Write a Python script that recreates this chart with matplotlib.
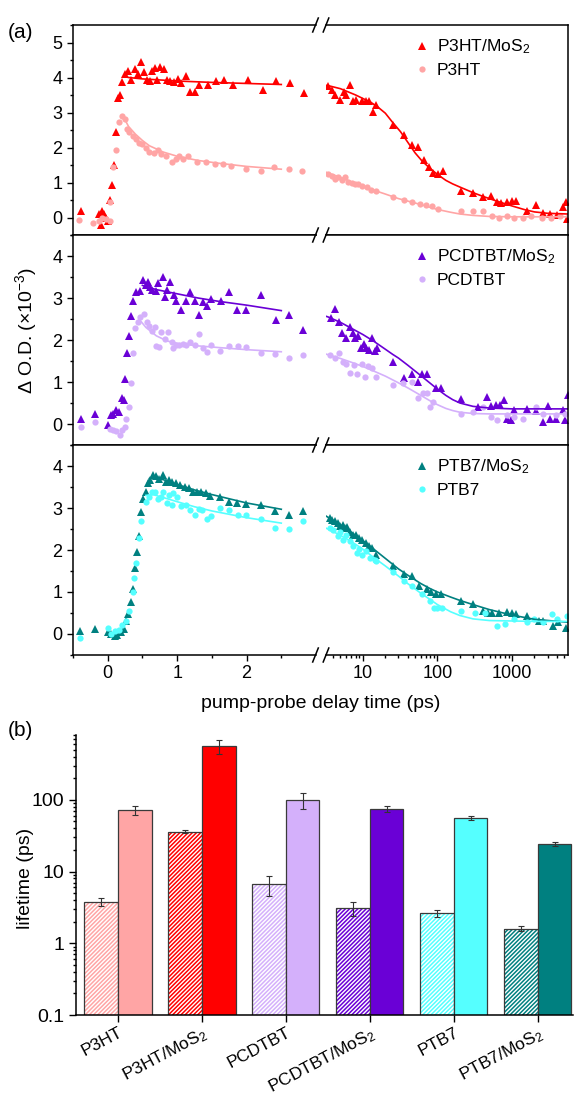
import numpy as np
import matplotlib
matplotlib.use("Agg")
import matplotlib.pyplot as plt
from matplotlib.lines import Line2D
from matplotlib.ticker import FixedLocator, MultipleLocator, LogLocator, NullFormatter, FuncFormatter

plt.rcParams["font.family"] = ["Liberation Sans", "DejaVu Sans"]
plt.rcParams["mathtext.fontset"] = "custom"
plt.rcParams["mathtext.rm"] = "Liberation Sans"
plt.rcParams["mathtext.it"] = "Liberation Sans:italic"
plt.rcParams["hatch.linewidth"] = 1.1
plt.rcParams["axes.linewidth"] = 1.1

# ---------------- panel (a): transient absorption kinetics ----------------
# delay time (ps) and dOD (x1e-3)
t_p3ht_mos2 = [-0.38, -0.12, -0.08, -0.1, -0.05, -0.02, 0.0, 0.03, 0.06, 0.09, 0.115, 0.15, 0.18, 0.21,
               0.245, 0.29, 0.33, 0.39, 0.44, 0.485, 0.52, 0.56, 0.61, 0.64, 0.68, 0.71, 0.75, 0.81, 0.85,
               0.89, 0.96, 1.01, 1.06, 1.13, 1.18, 1.25, 1.31, 1.44, 1.56, 1.68, 1.8, 2.02, 2.24, 2.43,
               2.62, 2.82,
               3.42, 3.8, 4.2, 4.9, 5.6, 6.0, 6.7, 7.4, 8.2, 9.6, 11, 12.2, 13.5, 15.2, 25.5, 35.5, 45,
               55, 66, 78, 88, 102, 117, 210, 300, 410, 520, 620, 720, 850, 990, 1130, 1600, 2100, 2620,
               3250, 4000, 4900, 5300, 5400]
od_p3ht_mos2 = [0.18, 0.1, 0.2, -0.2, 0.1, 0.0, -0.1, 0.49, 0.94, 1.5, 2.43, 3.42, 3.5, 3.87,
                4.1, 4.2, 3.93, 4.25, 4.1, 4.44, 4.15, 3.93, 3.9, 4.2, 4.26, 3.93, 4.3, 4.25, 3.93,
                3.9, 3.87, 3.96, 3.84, 4.05, 3.6, 3.6, 3.8, 3.8, 3.9, 3.93, 3.8, 3.93, 3.65, 3.9,
                3.85, 3.55,
                3.77, 3.63, 3.51, 3.36, 3.6, 3.5, 3.78, 3.34, 3.36, 3.34, 3.34, 3.34, 3.01, 3.22, 2.63,
                2.36, 2.06, 2.02, 1.65, 1.44, 1.27, 1.25, 1.33, 0.75, 0.7, 0.6, 0.62, 0.44, 0.42, 0.44,
                0.48, 0.48, 0.18, 0.37, 0.13, 0.1, 0.08, 0.3, 0.44, -0.03]

t_p3ht = [-0.41, -0.21, -0.13, -0.08, -0.02, 0.03, 0.03, 0.08, 0.115, 0.16, 0.21, 0.25, 0.28, 0.31, 0.36,
          0.41, 0.45, 0.5, 0.55, 0.6, 0.66, 0.72, 0.77, 0.84, 0.92, 0.98, 1.03, 1.09, 1.15, 1.28, 1.42,
          1.54, 1.66, 1.78, 1.99, 2.21, 2.4, 2.61, 2.8,
          3.42, 3.8, 4.2, 4.6, 5.2, 5.8, 6.4, 7.1, 7.9, 8.7, 9.8, 11.2, 12.9, 14.8, 25.5, 35.8, 45, 58,
          70, 85, 102, 210, 300, 410, 540, 660, 870, 1050, 1400, 1800, 2500, 3300, 4400]
od_p3ht = [-0.06, -0.16, -0.1, 0.0, -0.05, -0.1, 0.45, 1.44, 1.94, 2.72, 2.91, 2.82, 2.53, 2.43, 2.34,
           2.24, 2.14, 2.1, 2.0, 1.87, 1.84, 1.92, 1.82, 1.77, 1.58, 1.68, 1.77, 1.68, 1.77, 1.58, 1.58,
           1.53, 1.53, 1.47, 1.39, 1.34, 1.44, 1.39, 1.32,
           1.25, 1.18, 1.1, 1.15, 1.06, 1.17, 1.01, 0.98, 0.96, 0.96, 0.91, 0.86, 0.78, 0.76, 0.58, 0.49,
           0.44, 0.39, 0.37, 0.32, 0.23, 0.18, 0.2, 0.18, 0.03, 0.0, 0.03, 0.0, 0.0, 0.03, -0.01, 0.0, 0.05]

t_pcdtbt_mos2 = [-0.39, -0.19, 0.0, 0.05, 0.08, 0.125, 0.16, 0.2, 0.23, 0.245, 0.28, 0.31, 0.34, 0.36,
                 0.41, 0.47, 0.51, 0.55, 0.58, 0.61, 0.64, 0.69, 0.72, 0.79, 0.82, 0.85, 0.9, 0.95, 0.99,
                 1.06, 1.13, 1.19, 1.25, 1.31, 1.37, 1.43, 1.49, 1.63, 1.74, 1.86, 1.99, 2.21, 2.42, 2.61,
                 2.81,
                 3.68, 4.2, 4.8, 5.2, 6.0, 6.7, 7.3, 7.8, 8.6, 9.4, 10.3, 11.1, 12.2, 13.3, 14.4, 15.6,
                 25.5, 35.5, 46, 55, 62, 72, 95, 110, 210, 355, 460, 520, 610, 700, 780, 850, 960, 1050,
                 1600, 2100, 2600, 3000, 3250, 3900, 4800, 5200, 5600]
od_pcdtbt_mos2 = [0.13, 0.25, -0.02, 0.21, 0.25, 0.33, 0.29, 0.61, 0.57, 1.06, 1.7, 2.1, 2.56, 2.92,
                  3.14, 3.16, 3.43, 3.31, 3.39, 3.27, 3.19, 3.16, 3.35, 3.51, 3.03, 3.19, 3.39, 3.07, 2.92,
                  2.71, 2.92, 3.14, 2.92, 2.6, 2.9, 2.8, 2.98, 2.92, 3.14, 2.71, 2.71, 3.06, 2.48, 2.6,
                  2.25,
                  2.52, 2.75, 2.44, 2.16, 2.04, 2.3, 2.16, 2.04, 2.1, 1.81, 1.9, 1.81, 1.77, 2.04, 1.73, 1.81,
                  1.48, 1.1, 1.19, 1.01, 1.19, 1.19, 0.85, 0.85, 0.59, 0.4, 0.65, 0.42, 0.46, 0.46, 0.57,
                  0.13, 0.1, 0.33, 0.36, 0.3, 0.04, 0.44, 0.13, 0.13, 0.33, 0.1, 0.68]

t_pcdtbt = [-0.39, -0.19, 0.03, 0.07, 0.12, 0.17, 0.21, 0.25, 0.27, 0.3, 0.33, 0.36, 0.4, 0.44, 0.47,
            0.52, 0.56, 0.6, 0.64, 0.68, 0.7, 0.74, 0.77, 0.82, 0.87, 0.92, 0.94, 0.99, 1.03, 1.08, 1.13,
            1.19, 1.25, 1.31, 1.37, 1.43, 1.49, 1.62, 1.75, 1.87, 1.99, 2.21, 2.41, 2.61, 2.81,
            3.6, 4.2, 4.8, 5.4, 6.0, 6.8, 7.5, 8.4, 9.6, 10.6, 11.7, 13.3, 14.9, 25.5, 35, 45, 55, 64,
            72, 79, 87, 210, 300, 410, 520, 620, 850, 1050, 1400, 2100, 2600, 3900, 5200]
od_pcdtbt = [-0.06, 0.05, -0.13, -0.14, -0.17, -0.26, -0.14, -0.06, 0.11, 0.41, 0.97, 1.7, 2.28, 2.44, 2.54,
             2.61, 2.44, 2.33, 2.22, 2.32, 1.86, 1.84, 2.2, 2.03, 2.2, 1.96, 1.81, 1.89, 1.89, 1.91, 1.89,
             1.96, 1.89, 2.15, 1.81, 1.72, 1.89, 1.73, 1.86, 1.86, 1.84, 1.68, 1.66, 1.58, 1.64,
             1.64, 1.56, 1.68, 1.48, 1.44, 1.21, 1.41, 1.19, 1.44, 1.13, 1.37, 1.33, 1.13, 0.93, 0.97,
             0.99, 0.61, 0.73, 0.73, 0.41, 0.53, 0.25, 0.29, 0.41, 0.17, 0.1, 0.21, 0.17, 0.13, 0.41,
             0.25, 0.21, 0.25]

t_ptb7_mos2 = [-0.4, -0.19, 0.0, 0.05, 0.1, 0.14, 0.19, 0.24, 0.26, 0.29, 0.34, 0.36, 0.39, 0.42, 0.45,
               0.48, 0.51, 0.55, 0.58, 0.61, 0.65, 0.69, 0.74, 0.79, 0.84, 0.88, 0.92, 0.98, 1.04, 1.11,
               1.17, 1.23, 1.29, 1.35, 1.41, 1.47, 1.62, 1.74, 1.86, 1.99, 2.21, 2.41, 2.61, 2.81,
               3.6, 3.9, 4.2, 4.7, 5.0, 5.4, 5.8, 6.2, 6.7, 7.3, 8.0, 8.9, 9.8, 11, 12.2, 13.3, 15.2,
               25.5, 35.5, 46, 56, 72, 82, 96, 110, 210, 300, 410, 480, 540, 660, 850, 990, 1130, 1600,
               2300, 2600, 3600, 4100, 5300]
od_ptb7_mos2 = [0.08, 0.12, 0.05, 0.0, -0.05, -0.03, 0.04, 0.12, 0.32, 0.47, 0.76, 1.08, 1.58, 1.95, 2.34,
                2.9, 3.21, 3.39, 3.59, 3.66, 3.79, 3.76, 3.7, 3.79, 3.61, 3.67, 3.61, 3.59, 3.55, 3.51,
                3.47, 3.37, 3.39, 3.37, 3.35, 3.28, 3.27, 3.15, 3.12, 3.1, 3.06, 2.94, 2.84, 2.94,
                2.76, 2.72, 2.68, 2.64, 2.58, 2.6, 2.52, 2.54, 2.44, 2.36, 2.36, 2.28, 2.25, 2.17, 2.09,
                2.05, 1.89, 1.62, 1.42, 1.38, 1.14, 1.07, 0.99, 0.95, 0.95, 0.79, 0.71, 0.55, 0.51, 0.51,
                0.51, 0.52, 0.51, 0.47, 0.43, 0.31, 0.31, 0.2, 0.28, 0.15]

t_ptb7 = [-0.4, 0.0, 0.05, 0.1, 0.16, 0.21, 0.26, 0.31, 0.36, 0.38, 0.41, 0.45, 0.48, 0.55, 0.6, 0.64,
          0.68, 0.72, 0.77, 0.8, 0.85, 0.88, 0.92, 0.94, 1.0, 1.06, 1.13, 1.19, 1.25, 1.31, 1.36, 1.43,
          1.49, 1.62, 1.74, 1.87, 1.99, 2.21, 2.41, 2.61, 2.81,
          3.6, 4.0, 4.7, 5.0, 5.4, 6.0, 6.7, 7.4, 8.4, 8.9, 9.8, 11, 12.5, 14.4, 15.2, 25.5, 35.5, 45,
          62, 80, 89, 100, 115, 210, 320, 440, 620, 800, 1050, 1600, 2000, 2600, 3400, 4000, 5400]
od_ptb7 = [-0.09, 0.14, 0.0, 0.06, 0.1, 0.22, 0.31, 0.55, 1.0, 1.34, 1.68, 2.28, 2.68, 3.15, 3.26, 3.39,
           3.39, 3.21, 3.26, 3.38, 3.12, 3.31, 3.06, 3.35, 3.26, 3.04, 3.08, 2.95, 2.84, 2.98, 2.95, 2.74,
           2.81, 3.0, 2.95, 2.84, 2.84, 2.74, 2.52, 2.5, 2.68,
           2.52, 2.48, 2.33, 2.44, 2.25, 2.36, 2.21, 2.09, 1.93, 2.03, 1.89, 1.97, 1.81, 1.77, 1.75,
           1.47, 1.26, 1.14, 0.95, 0.79, 0.63, 0.63, 0.63, 0.55, 0.51, 0.51, 0.2, 0.24, 0.35, 0.28,
           0.35, 0.28, 0.47, 0.35, 0.44]

# fitted curves, sampled from the figure
fit_t_p3ht_mos2 = [0.3, 0.5, 0.75, 1.0, 1.5, 2.0, 2.5, 3.0,
                   3.4, 5, 8, 10, 13, 16, 20, 25, 32, 40, 50, 63, 80, 100, 130, 160, 200, 300, 400, 600,
                   1000, 1500, 2000, 3000, 5600]
fit_od_p3ht_mos2 = [4.0, 3.96, 3.93, 3.9, 3.86, 3.83, 3.8, 3.78,
                    3.77, 3.68, 3.5, 3.4, 3.28, 3.15, 2.98, 2.72, 2.45, 2.15, 1.85, 1.6, 1.4, 1.23, 1.06,
                    0.96, 0.87, 0.71, 0.61, 0.48, 0.33, 0.22, 0.16, 0.12, 0.1]

fit_t_p3ht = [0.22, 0.3, 0.4, 0.5, 0.6, 0.8, 1.0, 1.3, 1.6, 2.0, 2.5, 3.0,
              3.4, 5, 7, 10, 14, 20, 30, 45, 60, 80, 100, 150, 200, 300, 500, 1000, 5600]
fit_od_p3ht = [2.9, 2.6, 2.38, 2.2, 2.05, 1.87, 1.75, 1.63, 1.55, 1.46, 1.38, 1.32,
               1.27, 1.15, 1.02, 0.9, 0.78, 0.67, 0.54, 0.44, 0.37, 0.29, 0.23, 0.15, 0.1, 0.06, 0.03,
               0.02, 0.02]

fit_t_pcdtbt_mos2 = [0.5, 0.7, 1.0, 1.3, 1.6, 2.0, 2.5, 3.0,
                     3.4, 5, 7, 10, 14, 20, 25, 30, 40, 60, 80, 100, 130, 160, 200, 300, 500, 1000, 5600]
fit_od_pcdtbt_mos2 = [3.3, 3.2, 3.1, 3.0, 2.92, 2.83, 2.7, 2.58,
                      2.55, 2.42, 2.28, 2.13, 1.97, 1.78, 1.66, 1.57, 1.4, 1.15, 0.97, 0.83, 0.68, 0.58,
                      0.5, 0.42, 0.38, 0.36, 0.36]

fit_t_pcdtbt = [0.45, 0.55, 0.7, 0.85, 1.0, 1.3, 1.6, 2.0, 2.5, 3.0,
                3.4, 5, 7, 10, 14, 20, 30, 40, 60, 80, 100, 130, 160, 200, 300, 500, 1000, 5600]
fit_od_pcdtbt = [2.5, 2.3, 2.1, 1.98, 1.92, 1.86, 1.82, 1.77, 1.72, 1.68,
                 1.65, 1.56, 1.47, 1.37, 1.26, 1.14, 0.98, 0.86, 0.68, 0.55, 0.46, 0.37, 0.32, 0.28,
                 0.25, 0.24, 0.24, 0.24]

fit_t_ptb7_mos2 = [0.6, 0.7, 0.85, 1.0, 1.25, 1.5, 2.0, 2.5, 3.0,
                   3.4, 5, 7, 10, 14, 20, 30, 40, 60, 80, 100, 150, 200, 300, 500, 1000, 2000, 5600]
fit_od_ptb7_mos2 = [3.7, 3.72, 3.65, 3.56, 3.43, 3.32, 3.12, 2.97, 2.84,
                    2.78, 2.6, 2.42, 2.22, 2.02, 1.8, 1.55, 1.4, 1.2, 1.08, 1.0, 0.88, 0.8, 0.7, 0.58,
                    0.45, 0.35, 0.28]

fit_t_ptb7 = [0.55, 0.65, 0.8, 1.0, 1.25, 1.5, 2.0, 2.5, 3.0,
              3.4, 5, 7, 10, 14, 20, 30, 40, 60, 80, 100, 150, 200, 300, 500, 1000, 2000, 5600]
fit_od_ptb7 = [3.3, 3.32, 3.25, 3.15, 3.03, 2.93, 2.77, 2.64, 2.54,
               2.5, 2.35, 2.2, 2.02, 1.82, 1.62, 1.38, 1.2, 0.97, 0.82, 0.7, 0.53, 0.44, 0.36, 0.32,
               0.31, 0.3, 0.3]

# ---------------- panel (b): lifetimes ----------------
categories = ["P3HT", "P3HT/MoS$_2$", "PCDTBT", "PCDTBT/MoS$_2$", "PTB7", "PTB7/MoS$_2$"]
tau_short = [3.8, 36, 6.6, 3.1, 2.6, 1.6]
tau_short_err = [0.5, 2, 2, 0.7, 0.3, 0.12]
tau_long = [72, 560, 100, 75, 56, 24]
tau_long_err = [10, 120, 25, 8, 4, 1.5]

colors = ["#ffa5a5", "#ff0000", "#d4b0fb", "#6a00d6", "#55ffff", "#008080"]

W, H = 574, 1102
BREAK = 3.0


def box(x0, y0, x1, y1):
    return [x0 / W, 1 - y1 / H, (x1 - x0) / W, (y1 - y0) / H]


def plot_split(axL, axR, t, od, **kw):
    t = np.asarray(t)
    od = np.asarray(od)
    left = t < BREAK
    axL.plot(t[left], od[left], **kw)
    line, = axR.plot(t[~left], od[~left], **kw)
    return line


def kinetics_row(fig, top, ylim, series, fits, labels, legend_y):
    axL = fig.add_axes(box(73, top, 316, top + 210))
    axR = fig.add_axes(box(326, top, 568, top + 210))

    handles = []
    for (t, od, c, m, ms), lab in zip(series, labels):
        h = plot_split(axL, axR, t, od, ls="none", marker=m, ms=ms, color=c, mew=0)
        h.set_label(lab)
        handles.append(h)
    for t, od, c in fits:
        plot_split(axL, axR, t, od, color=c, lw=1.2)

    axL.set_xlim(-0.5, BREAK)
    axR.set_xscale("log")
    axR.set_xlim(3.2, 5640)
    for ax in (axL, axR):
        ax.set_ylim(*ylim)
        ax.tick_params(which="both", direction="out", labelsize=13, width=1.0)
        ax.tick_params(which="major", length=4)
        ax.tick_params(which="minor", length=2.5)
    axL.spines["right"].set_visible(False)
    axR.spines["left"].set_visible(False)
    axR.tick_params(axis="y", which="both", left=False, labelleft=False)

    axL.xaxis.set_major_locator(FixedLocator([0, 1, 2]))
    axL.xaxis.set_minor_locator(FixedLocator([-0.5, 0.5, 1.5, 2.5]))
    axL.yaxis.set_major_locator(MultipleLocator(1))
    axL.yaxis.set_minor_locator(MultipleLocator(0.5))
    axR.xaxis.set_major_locator(FixedLocator([10, 100, 1000]))
    axR.xaxis.set_minor_locator(LogLocator(base=10, subs=np.arange(2, 10)))
    axR.xaxis.set_minor_formatter(NullFormatter())
    axR.xaxis.set_major_formatter(FuncFormatter(lambda v, _: f"{v:g}"))

    axR.legend(handles=handles, loc="upper left", bbox_to_anchor=(0.36, legend_y), frameon=False,
               fontsize=12.5, handlelength=1.0, handletextpad=0.35, labelspacing=0.4,
               borderpad=0, borderaxespad=0)
    return axL, axR


fig = plt.figure(figsize=(W / 100, H / 100), dpi=100)

rows = [
    (25, (-0.5, 5.5),
     [(t_p3ht_mos2, od_p3ht_mos2, colors[1], "^", 6), (t_p3ht, od_p3ht, colors[0], "o", 4.5)],
     [(fit_t_p3ht_mos2, fit_od_p3ht_mos2, colors[1]), (fit_t_p3ht, fit_od_p3ht, colors[0])],
     ["P3HT/MoS$_2$", "P3HT"]),
    (235, (-0.5, 4.5),
     [(t_pcdtbt_mos2, od_pcdtbt_mos2, colors[3], "^", 6), (t_pcdtbt, od_pcdtbt, colors[2], "o", 4.5)],
     [(fit_t_pcdtbt_mos2, fit_od_pcdtbt_mos2, colors[3]), (fit_t_pcdtbt, fit_od_pcdtbt, colors[2])],
     ["PCDTBT/MoS$_2$", "PCDTBT"]),
    (445, (-0.5, 4.5),
     [(t_ptb7_mos2, od_ptb7_mos2, colors[5], "^", 6), (t_ptb7, od_ptb7, colors[4], "o", 4.5)],
     [(fit_t_ptb7_mos2, fit_od_ptb7_mos2, colors[5]), (fit_t_ptb7, fit_od_ptb7, colors[4])],
     ["PTB7/MoS$_2$", "PTB7"]),
]

for i, (top, ylim, series, fits, labels) in enumerate(rows):
    axL, axR = kinetics_row(fig, top, ylim, series, fits, labels, 0.94)
    if i < 2:
        axL.tick_params(axis="x", which="both", labelbottom=False)
        axR.tick_params(axis="x", which="both", labelbottom=False)

# axis-break marks
for yb in [25, 235, 445, 655]:
    for xb in [315.5, 326]:
        fig.add_artist(Line2D([(xb - 2.8) / W, (xb + 2.8) / W], [1 - (yb + 7) / H, 1 - (yb - 7) / H],
                              transform=fig.transFigure, color="black", lw=1.1))

fig.text(26 / W, 1 - 330 / H, "Δ O.D. (×10$^{-3}$)", rotation=90, ha="center", va="center", fontsize=14)
fig.text(321 / W, 1 - 703 / H, "pump-probe delay time (ps)", ha="center", va="center", fontsize=14)
fig.text(8 / W, 1 - 33 / H, "(a)", ha="left", va="center", fontsize=15)
fig.text(8 / W, 1 - 730 / H, "(b)", ha="left", va="center", fontsize=15)

# ---------------- bar chart ----------------
ax = fig.add_axes(box(76, 735, 573, 1015))
ax.set_yscale("log")
x = np.arange(len(categories))
bw = 0.4
for i in range(len(categories)):
    c = colors[i]
    ax.bar(x[i] - bw / 2, tau_short[i], width=bw, color="white", edgecolor=c, hatch="////////",
           linewidth=0)
    ax.bar(x[i] - bw / 2, tau_short[i], width=bw, fill=False, edgecolor="#3a3a3a", linewidth=0.9)
    ax.bar(x[i] + bw / 2, tau_long[i], width=bw, color=c, edgecolor="#3a3a3a", linewidth=0.9)
ax.errorbar(x - bw / 2, tau_short, yerr=tau_short_err, fmt="none", ecolor="#333333", elinewidth=0.8,
            capsize=2.5, capthick=0.8)
ax.errorbar(x + bw / 2, tau_long, yerr=tau_long_err, fmt="none", ecolor="#333333", elinewidth=0.8,
            capsize=2.5, capthick=0.8)

ax.set_xlim(-0.5, 5.42)
ax.set_ylim(0.1, 800)
ax.spines["top"].set_visible(False)
ax.spines["right"].set_visible(False)
ax.set_xticks(x)
ax.set_xticklabels(categories, rotation=28, ha="right", rotation_mode="anchor", fontsize=12.5)
ax.yaxis.set_major_locator(FixedLocator([0.1, 1, 10, 100]))
ax.yaxis.set_major_formatter(FuncFormatter(lambda v, _: f"{v:g}"))
ax.yaxis.set_minor_locator(LogLocator(base=10, subs=np.arange(2, 10)))
ax.yaxis.set_minor_formatter(NullFormatter())
ax.tick_params(which="both", direction="out", labelsize=14, width=1.0)
ax.tick_params(which="major", length=5)
ax.tick_params(which="minor", length=2.5)
ax.tick_params(axis="x", labelsize=12.5, pad=2)
fig.text(25 / W, 1 - 878 / H, "lifetime (ps)", rotation=90, ha="center", va="center", fontsize=14)

fig.savefig("out.png", dpi=100)
